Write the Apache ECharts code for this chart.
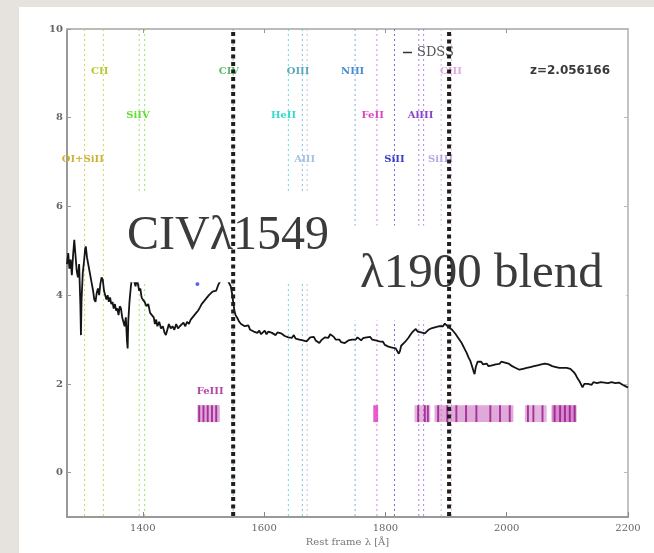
<!DOCTYPE html>
<html><head><meta charset="utf-8">
<script src="https://cdn.jsdelivr.net/npm/echarts@6/dist/echarts.min.js"></script>
<style>
html,body{margin:0;padding:0;width:654px;height:553px;overflow:hidden;background:#e6e3df;}
#panel{position:absolute;left:19px;top:7px;right:0;bottom:0;background:#fff;}
#chart{position:absolute;left:0;top:0;width:654px;height:553px;}
</style></head><body>
<div id="panel"></div><div id="chart"></div>
<script>
// ---- SDSS spectrum (rest frame wavelength, flux) ----
const waves = [
1275,1277,1279,1281,1283,1285,1287,1289,1291,1293,
1295,1297,1298,1299,1301,1303,1305,1306,1308,1310,
1312,1314,1316,1318,1320,1322,1324,1326,1328,1330,
1332,1334,1336,1338,1340,1342,1344,1346,1348,1350,
1352,1354,1356,1358,1360,1362,1364,1366,1368,1370,
1372,1374,1375,1376,1378,1380,1382,1384,1386,1388,
1390,1392,1394,1396,1398,1400,1403,1406,1409,1412,
1415,1418,1420,1422,1424,1427,1430,1433,1436,1438,
1440,1443,1446,1449,1452,1455,1458,1461,1464,1467,
1470,1473,1476,1479,1482,1485,1488,1491,1494,1497,
1500,1503,1506,1509,1512,1515,1518,1521,1524,1527,
1530,1533,1536,1539,1542,1545,1547,1549,1551,1553,
1556,1559,1562,1565,1568,1571,1574,1577,1580,1583,
1586,1589,1592,1595,1598,1601,1604,1607,1610,1613,
1616,1619,1622,1625,1628,1631,1634,1637,1640,1643,
1646,1649,1652,1655,1658,1661,1664,1667,1670,1673,
1676,1679,1682,1685,1688,1691,1694,1697,1700,1703,
1706,1709,1712,1715,1718,1721,1724,1727,1730,1733,
1736,1739,1742,1745,1748,1751,1754,1757,1760,1763,
1766,1769,1772,1775,1778,1781,1784,1787,1790,1793,
1796,1799,1802,1805,1808,1811,1814,1817,1820,1822,
1824,1826,1829,1832,1835,1838,1841,1844,1847,1850,
1853,1856,1859,1862,1865,1868,1871,1874,1877,1880,
1883,1886,1889,1892,1895,1898,1901,1904,1907,1910,
1913,1916,1919,1922,1925,1928,1931,1934,1937,1940,
1943,1945,1947,1949,1952,1955,1958,1961,1964,1967,
1970,1973,1976,1979,1982,1985,1988,1991,1994,1997,
2000,2003,2006,2009,2012,2015,2018,2021,2024,2027,
2030,2033,2036,2039,2042,2045,2048,2051,2054,2057,
2060,2063,2066,2069,2072,2075,2078,2081,2084,2087,
2090,2093,2096,2099,2102,2105,2108,2111,2114,2117,
2120,2123,2125,2128,2131,2134,2137,2140,2143,2146,
2149,2152,2155,2158,2161,2164,2167,2170,2173,2176,
2179,2182,2185,2188,2191,2194,2197,2200];
const flux = [
4.70,4.95,4.60,4.80,4.45,4.90,5.25,4.90,4.55,4.40,
4.70,3.80,3.10,3.90,4.50,4.75,5.05,5.10,4.85,4.70,
4.55,4.40,4.25,4.10,3.90,3.85,4.05,4.15,4.00,4.25,
4.40,4.35,4.10,4.00,3.90,4.00,3.85,3.95,3.80,3.85,
3.70,3.80,3.65,3.70,3.55,3.75,3.70,3.50,3.40,3.30,
3.50,2.95,2.80,3.40,3.85,4.15,4.40,4.45,4.30,4.20,
4.35,4.25,4.10,4.15,3.95,3.90,3.85,3.75,3.80,3.60,
3.55,3.50,3.35,3.45,3.30,3.40,3.25,3.30,3.15,3.10,
3.20,3.35,3.25,3.30,3.22,3.35,3.25,3.30,3.28,3.38,
3.30,3.40,3.35,3.45,3.50,3.48,3.60,3.65,3.72,3.80,
3.78,3.90,3.95,4.00,3.98,4.08,4.12,4.10,4.22,4.30,
4.35,4.32,4.40,4.35,4.28,4.20,4.05,3.85,3.65,3.55,
3.48,3.40,3.35,3.38,3.30,3.28,3.32,3.22,3.25,3.18,
3.22,3.15,3.20,3.12,3.15,3.20,3.12,3.18,3.22,3.15,
3.18,3.10,3.16,3.20,3.14,3.12,3.08,3.12,3.05,3.08,
3.04,3.10,3.02,3.06,3.00,3.04,2.98,3.02,2.96,3.00,
3.05,3.02,3.06,2.98,2.95,2.92,2.98,3.02,3.05,3.08,
3.04,3.12,3.10,3.06,3.00,2.96,3.00,2.94,2.97,2.92,
2.95,2.98,3.02,3.00,3.04,3.00,3.05,3.02,2.98,3.03,
3.00,3.05,3.02,3.06,3.00,3.04,2.98,3.02,2.96,2.99,
2.95,2.88,2.92,2.84,2.88,2.82,2.86,2.80,2.76,2.68,
2.74,2.86,2.90,2.94,2.98,3.04,3.10,3.16,3.20,3.24,
3.18,3.22,3.16,3.20,3.14,3.18,3.22,3.20,3.26,3.22,
3.28,3.24,3.30,3.34,3.30,3.36,3.32,3.28,3.32,3.22,
3.26,3.12,3.06,3.10,2.94,2.86,2.78,2.70,2.60,2.52,
2.48,2.30,2.22,2.38,2.50,2.46,2.50,2.44,2.42,2.46,
2.40,2.44,2.42,2.46,2.44,2.48,2.45,2.50,2.46,2.48,
2.44,2.46,2.42,2.40,2.38,2.36,2.34,2.32,2.30,2.34,
2.32,2.36,2.34,2.38,2.36,2.40,2.38,2.42,2.38,2.44,
2.42,2.46,2.48,2.44,2.46,2.40,2.42,2.38,2.40,2.36,
2.40,2.36,2.34,2.36,2.32,2.34,2.30,2.26,2.20,2.12,
2.06,1.98,1.92,2.00,2.04,2.00,2.02,1.98,2.04,2.00,
2.02,1.98,2.04,2.00,2.03,1.99,2.02,2.00,2.04,2.00,
2.02,1.98,2.03,2.00,1.98,1.96,1.94,1.92];

// ---- emission line identifications ----
const idLineWaves  = [1304, 1335, 1394, 1403, 1549, 1640, 1663, 1671, 1750, 1786, 1815, 1855, 1863, 1892, 1909];
const idLineColors = ['#d4c440','#c6d23c','#8ade4a','#8ade4a','#66c070','#40dccc','#70b0cc','#a8c8e4','#6a9ee0','#e070cc','#5a5ad0','#a070e0','#a070e0','#c0b0e4','#e4b0e4'];
const idLabels      = ['OI+SiII','CII','SiIV','CIV','HeII','OIII','AlII','NIII','FeII','SiII','AlIII','SiIII','CIII'];
const idLabelWaves  = [1301, 1329, 1392, 1542, 1632, 1656, 1667, 1746, 1779, 1815, 1858, 1891, 1908];
const idLabelFlux   = [7.06, 9.04, 8.05, 9.04, 8.05, 9.04, 7.06, 9.04, 8.05, 7.06, 8.05, 7.06, 9.04];
const idLabelColors = ['#cdb23c','#b6c82e','#66dd33','#5cbb6a','#33dccb','#5aa8bc','#a4c2e0','#4a8ad0','#dd44bb','#3c3cc8','#8a44cc','#b8a8e0','#e0a8e0'];

// ---- Fe template bands / stripes ----
const feBands = [[1490,1527],[1780,1788],[1848,1874],[1881,2011],[2030,2066],[2074,2115]];
const feBandAlpha = [0.40, 0.85, 0.35, 0.40, 0.35, 0.55];
const feStripes = [1493,1500,1507,1514,1521,1854,1865,1870,1887,1902,1917,1933,1950,1973,1989,2005,2035,2044,2059,2079,2088,2096,2104,2112];
const feLow = 1.14, feHigh = 1.52;

// ---- markers / annotations ----
const markerWaves = [1549, 1905];
const coverBoxes = [[1349, 1725, 4.29, 6.32], [1741, 2197, 3.43, 5.57]];
const bluePoint = [[1490, 4.25]];
const xTicks = [1400, 1600, 1800, 2000, 2200];
const xTopTicks = [1400, 1600, 1800, 2000];
const yTicks = [0, 2, 4, 6, 8, 10];
const X_MIN = 1275, X_MAX = 2200, Y_MIN = -1, Y_MAX = 10;

const chart = echarts.init(document.getElementById('chart'), null, {renderer: 'canvas'});
const serif = '"DejaVu Serif", serif';

const option = {
  animation: false,
  backgroundColor: 'transparent',
  grid: {left: 67, right: 26, top: 29, bottom: 36, containLabel: false, outerBoundsMode: 'none'},
  legend: {
    data: [{name: 'SDSS', icon: 'rect'}],
    left: 398, top: 41, itemWidth: 9, itemHeight: 1.5, z: 6,
    textStyle: {fontFamily: serif, fontSize: 13, color: '#555'}
  },
  xAxis: [{
    type: 'value', min: X_MIN, max: X_MAX, position: 'bottom',
    axisLine: {show: true, onZero: false, lineStyle: {color: '#999', width: 2}},
    axisTick: {show: true, inside: true, length: 5, customValues: xTicks, lineStyle: {color: '#888'}},
    axisLabel: {customValues: xTicks, formatter: function (v) { return String(v); },
      fontFamily: serif, fontSize: 10, color: '#666', margin: 6},
    splitLine: {show: false},
    name: 'Rest frame λ [Å]', nameLocation: 'middle', nameGap: 19,
    nameTextStyle: {fontFamily: serif, fontSize: 10, color: '#777'}
  }, {
    type: 'value', min: X_MIN, max: X_MAX, position: 'top',
    axisLine: {show: true, onZero: false, lineStyle: {color: '#bbb', width: 2}},
    axisTick: {show: true, inside: true, length: 4, customValues: xTopTicks, lineStyle: {color: '#999'}},
    axisLabel: {show: false}, splitLine: {show: false}
  }],
  yAxis: [{
    type: 'value', min: Y_MIN, max: Y_MAX, position: 'left',
    axisLine: {show: true, onZero: false, lineStyle: {color: '#999', width: 2}},
    axisTick: {show: true, inside: true, length: 4, customValues: yTicks, lineStyle: {color: '#999'}},
    axisLabel: {customValues: yTicks, formatter: function (v) { return String(v); },
      fontFamily: serif, fontSize: 10, fontWeight: 'bold', color: '#666', margin: 4},
    splitLine: {show: false}
  }, {
    type: 'value', min: Y_MIN, max: Y_MAX, position: 'right',
    axisLine: {show: true, onZero: false, lineStyle: {color: '#c4c4c4', width: 2}},
    axisTick: {show: true, inside: true, length: 4, customValues: yTicks, lineStyle: {color: '#bbb'}},
    axisLabel: {show: false}, splitLine: {show: false}
  }],
  graphic: [
    {type: 'text', x: 127, y: 236, z: 8, style: {text: 'CIVλ1549', font: '48px "Liberation Serif", serif', fill: '#3b3b3b', verticalAlign: 'middle'}},
    {type: 'text', x: 360, y: 274, z: 8, style: {text: 'λ1900 blend', font: '49px "Liberation Serif", serif', fill: '#3b3b3b', verticalAlign: 'middle'}},
    {type: 'text', x: 610, y: 71, z: 8, style: {text: 'z=2.056166', font: 'bold 12px "DejaVu Sans", sans-serif', fill: '#3a3a3a', align: 'right', verticalAlign: 'middle'}}
  ],
  series: [
    { // line identification dotted lines
      type: 'custom', z: 2, silent: true,
      data: idLineWaves.map(function (w, i) { return [w, i]; }),
      renderItem: function (params, api) {
        const w = api.value(0);
        const a = api.coord([w, Y_MAX]), b = api.coord([w, Y_MIN]);
        return {type: 'line', shape: {x1: a[0], y1: a[1], x2: b[0], y2: b[1]},
          style: {stroke: idLineColors[params.dataIndex], lineWidth: 1, lineDash: [2, 3], opacity: 0.85}};
      }
    },
    { // Fe template bands
      type: 'custom', z: 3, silent: true,
      data: feBands.map(function (b, i) { return [b[0], b[1], i]; }),
      renderItem: function (params, api) {
        const a = api.coord([api.value(0), feHigh]), b = api.coord([api.value(1), feLow]);
        return {type: 'rect', shape: {x: a[0], y: a[1], width: b[0] - a[0], height: b[1] - a[1]},
          style: {fill: params.dataIndex === 1 ? '#e23ec4' : '#b02aa0', opacity: feBandAlpha[params.dataIndex]}};
      }
    },
    { // Fe template stripes
      type: 'custom', z: 3, silent: true,
      data: feStripes.map(function (w) { return [w]; }),
      renderItem: function (params, api) {
        const w = api.value(0);
        const a = api.coord([w - 1.6, feHigh]), b = api.coord([w + 1.6, feLow]);
        return {type: 'rect', shape: {x: a[0], y: a[1], width: b[0] - a[0], height: b[1] - a[1]},
          style: {fill: '#9a1488', opacity: 0.8}};
      }
    },
    {
      name: 'SDSS', type: 'line', z: 3, silent: true, showSymbol: false, symbol: 'none',
      data: waves.map(function (w, i) { return [w, flux[i]]; }),
      lineStyle: {color: '#141414', width: 1.8}, itemStyle: {color: '#333'}
    },
    {
      type: 'scatter', z: 3, silent: true, data: bluePoint, symbolSize: 4,
      itemStyle: {color: '#2a3cf0'}
    },
    { // white annotation boxes
      type: 'custom', z: 5, silent: true,
      data: coverBoxes,
      renderItem: function (params, api) {
        const a = api.coord([api.value(0), api.value(3)]), b = api.coord([api.value(1), api.value(2)]);
        return {type: 'rect', shape: {x: a[0], y: a[1], width: b[0] - a[0], height: b[1] - a[1]},
          style: {fill: '#ffffff'}};
      }
    },
    { // line ID labels
      type: 'custom', z: 6, silent: true,
      data: idLabelWaves.map(function (w, i) { return [w, idLabelFlux[i]]; }),
      renderItem: function (params, api) {
        const p = api.coord([api.value(0), api.value(1)]);
        return {type: 'text', x: p[0], y: p[1],
          style: {text: idLabels[params.dataIndex], fill: idLabelColors[params.dataIndex],
            font: 'bold 10px "DejaVu Serif", serif', align: 'center', verticalAlign: 'middle'}};
      }
    },
    { // FeIII label
      type: 'custom', z: 6, silent: true,
      data: [[1511, 1.82]],
      renderItem: function (params, api) {
        const p = api.coord([api.value(0), api.value(1)]);
        return {type: 'text', x: p[0], y: p[1],
          style: {text: 'FeIII', fill: '#b048a8', font: 'bold 10px "DejaVu Serif", serif', align: 'center', verticalAlign: 'middle'}};
      }
    },
    { // thick black dotted marker lines
      type: 'custom', z: 10, silent: true,
      data: markerWaves.map(function (w) { return [w]; }),
      renderItem: function (params, api) {
        const w = api.value(0);
        const a = api.coord([w, Y_MAX]), b = api.coord([w, Y_MIN]);
        return {type: 'line', shape: {x1: a[0], y1: a[1] + 3, x2: b[0], y2: b[1]},
          style: {stroke: '#1e1e1e', lineWidth: 4, lineDash: [4, 3.5]}};
      }
    }
  ]
};
chart.setOption(option);
</script>
</body></html>
